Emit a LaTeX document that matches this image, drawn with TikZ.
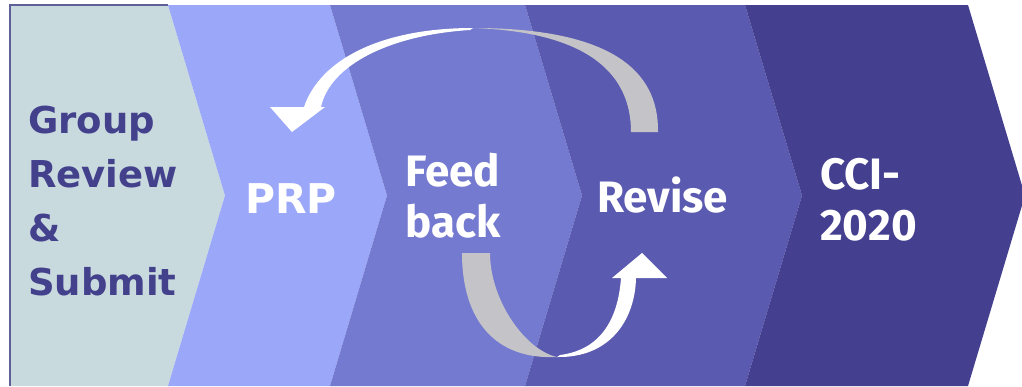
\documentclass[tikz,border=0pt]{standalone}
\usepackage{fontspec}
\usepackage{xcolor}
\definecolor{cStep1}{HTML}{C8DADE}
\definecolor{cStep2}{HTML}{9BA7F8}
\definecolor{cStep3}{HTML}{747ACF}
\definecolor{cStep4}{HTML}{5A5AB0}
\definecolor{cStep5}{HTML}{443F8F}
\definecolor{cInk}{HTML}{43408C}
\definecolor{cEdge}{HTML}{5E6198}
\definecolor{cRibbon}{HTML}{C4C4C8}
\newfontfamily\wideface{DejaVu Sans}
\newfontfamily\narrowface{Fira Sans}
\usepackage{tikz}
\usetikzlibrary{positioning}
\tikzset{
  step-label/.style={inner sep=0pt,anchor=base west,align=left},
  label-dark/.style={step-label,text=cInk,
    font=\wideface\bfseries\fontsize{37}{54}\selectfont},
  label-wide/.style={step-label,text=white,
    font=\wideface\bfseries\fontsize{41}{50}\selectfont},
  label-narrow/.style={step-label,text=white,
    font=\narrowface\bfseries\fontsize{44}{51}\selectfont},
  ribbon-back/.style={fill=cRibbon},
  ribbon-front/.style={fill=white},
  step-edge/.style={draw=cEdge,line width=1.2pt},
}

\begin{document}
\begin{tikzpicture}[x=1pt,y=-1pt]
  \useasboundingbox (0,0) rectangle (1022,386);
  % chevrons, left to right
  \fill[cStep1] (10,5) -- (168,5) -- (225,195.5) -- (168,386) -- (10,386) -- cycle;
  \draw[step-edge] (10,386) -- (10,5) -- (168,5);
  \foreach \i/\xa/\xb in {2/168/330, 3/330/525, 4/525/745, 5/745/968} {
    \fill[cStep\i] (\xa,5) -- (\xb,5) -- ({\xb+57},195.5) -- (\xb,386)
      -- (\xa,386) -- ({\xa+57},195.5) -- cycle;
  }
  % upper loop arrow: Revise back to PRP
  \fill[ribbon-back] (631,132) -- (658,132) .. controls (659,70) and (610,28) .. (473,28)
    .. controls (590,32) and (631,75) .. (631,132) -- cycle;
  \fill[ribbon-front] (473,28) .. controls (380,28) and (320,60) .. (304,107)
    -- (270,107) -- (292,132) -- (325,107) -- (321,107)
    .. controls (330,65) and (390,35) .. (470,30) -- cycle;
  % lower loop arrow: Feed back to Revise
  \fill[ribbon-back] (462,253) -- (490,253) .. controls (490,300) and (525,350) .. (557,357)
    .. controls (495,360) and (462,320) .. (462,253) -- cycle;
  \fill[ribbon-front] (557,357) .. controls (610,358) and (635,320) .. (636,278)
    -- (667,278) -- (642,253) -- (612,278) -- (621,278)
    .. controls (618,320) and (600,350) .. (560,355) -- cycle;
  % labels
  \node[label-dark] (grp) at (28,295) {Group\\Review\\\&\\Submit};
  \node[label-wide] (prp) at (245,213) {PRP};
  \node[label-narrow] (fdb) at (405,237) {Feed\\back};
  \node[label-narrow] (rev) at (597,212) {Revise};
  \node[label-narrow] (cci) at (820,240) {CCI-\\2020};
\end{tikzpicture}
\end{document}
